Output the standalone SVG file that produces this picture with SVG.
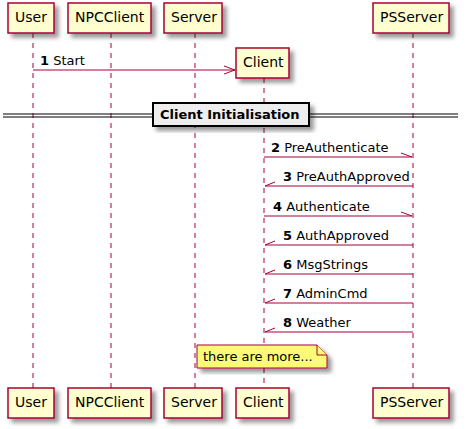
<svg xmlns="http://www.w3.org/2000/svg" width="469" height="429" viewBox="0 0 469 429">
<defs>
<filter id="sh" x="-20%" y="-20%" width="150%" height="150%">
<feGaussianBlur in="SourceAlpha" stdDeviation="2"/>
<feOffset dx="4" dy="4" result="b"/>
<feColorMatrix in="b" type="matrix" values="0 0 0 0 0  0 0 0 0 0  0 0 0 0 0  0 0 0 0.4 0"/>
<feMerge><feMergeNode/><feMergeNode in="SourceGraphic"/></feMerge>
</filter>
</defs>
<style>
.p{fill:#FEFECE;stroke:#A80036;stroke-width:1.5;filter:url(#sh)}
.pt{font-family:"DejaVu Sans",sans-serif;font-size:14px;fill:#000}
.ll{stroke:#A80036;stroke-width:1;stroke-dasharray:5,5;fill:none}
.m{stroke:#A80036;stroke-width:1;fill:none}
.mt{font-family:"DejaVu Sans",sans-serif;font-size:13px;fill:#000}
.b{font-weight:bold}
.dl{stroke:#000;stroke-width:1;fill:none}
</style>
<g id="lifelines">
<line class="ll" x1="33" y1="33" x2="33" y2="388"/>
<line class="ll" x1="111" y1="33" x2="111" y2="388"/>
<line class="ll" x1="195" y1="33" x2="195" y2="388"/>
<line class="ll" x1="264" y1="78" x2="264" y2="388"/>
<line class="ll" x1="413" y1="33" x2="413" y2="388"/>
</g>
<g id="User">
<rect class="p" x="8" y="3" width="46" height="30"/>
<text class="pt" x="15" y="22">User</text>
<rect class="p" x="8" y="388" width="46" height="30"/>
<text class="pt" x="15" y="407">User</text>
</g>
<g id="NPCClient">
<rect class="p" x="68" y="3" width="83" height="30"/>
<text class="pt" x="75" y="22">NPCClient</text>
<rect class="p" x="68" y="388" width="83" height="30"/>
<text class="pt" x="75" y="407">NPCClient</text>
</g>
<g id="Server">
<rect class="p" x="164" y="3" width="58" height="30"/>
<text class="pt" x="171" y="22">Server</text>
<rect class="p" x="164" y="388" width="58" height="30"/>
<text class="pt" x="171" y="407">Server</text>
</g>
<g id="Client">
<rect class="p" x="236" y="48" width="53" height="30"/>
<text class="pt" x="243" y="67">Client</text>
<rect class="p" x="236" y="388" width="53" height="30"/>
<text class="pt" x="243" y="407">Client</text>
</g>
<g id="PSServer">
<rect class="p" x="373" y="3" width="76" height="30"/>
<text class="pt" x="380" y="22">PSServer</text>
<rect class="p" x="373" y="388" width="76" height="30"/>
<text class="pt" x="380" y="407">PSServer</text>
</g>
<g id="divider">
<line class="dl" x1="3" y1="114" x2="458" y2="114"/>
<line class="dl" x1="3" y1="117" x2="458" y2="117"/>
<rect x="153" y="103" width="156" height="23" fill="#EEEEEE" stroke="#000" stroke-width="2" filter="url(#sh)"/>
<text class="mt b" x="160" y="119">Client Initialisation</text>
</g>
<g id="connectors">
<line class="m" x1="33" y1="70" x2="235" y2="70"/>
<polyline class="m" points="224,66 235,70 224,74"/>
<line class="m" x1="264" y1="157" x2="412" y2="157"/>
<line class="m" x1="401" y1="153" x2="412" y2="157"/>
<line class="m" x1="265" y1="186" x2="413" y2="186"/>
<line class="m" x1="265" y1="186" x2="275" y2="182"/>
<line class="m" x1="264" y1="216" x2="412" y2="216"/>
<line class="m" x1="401" y1="212" x2="412" y2="216"/>
<line class="m" x1="265" y1="245" x2="413" y2="245"/>
<line class="m" x1="265" y1="245" x2="275" y2="241"/>
<line class="m" x1="265" y1="274" x2="413" y2="274"/>
<line class="m" x1="265" y1="274" x2="275" y2="270"/>
<line class="m" x1="265" y1="303" x2="413" y2="303"/>
<line class="m" x1="265" y1="303" x2="275" y2="299"/>
<line class="m" x1="265" y1="332" x2="413" y2="332"/>
<line class="m" x1="265" y1="332" x2="275" y2="328"/>
</g>
<g id="labels">
<text class="mt" x="40" y="65"><tspan class="b">1</tspan> Start</text>
<text class="mt" x="271" y="152"><tspan class="b">2</tspan> PreAuthenticate</text>
<text class="mt" x="283" y="181"><tspan class="b">3</tspan> PreAuthApproved</text>
<text class="mt" x="273" y="211"><tspan class="b">4</tspan> Authenticate</text>
<text class="mt" x="283" y="240"><tspan class="b">5</tspan> AuthApproved</text>
<text class="mt" x="283" y="269"><tspan class="b">6</tspan> MsgStrings</text>
<text class="mt" x="283" y="298"><tspan class="b">7</tspan> AdminCmd</text>
<text class="mt" x="283" y="327"><tspan class="b">8</tspan> Weather</text>
</g>
<g id="note">
<path d="M197,345 L317,345 L327,355 L327,368 L197,368 Z" fill="#FBFB77" stroke="#A80036" stroke-width="1" filter="url(#sh)"/>
<path d="M317,345 L317,355 L327,355" fill="#FBFB77" stroke="#A80036" stroke-width="1"/>
<text class="mt" x="203" y="361">there are more...</text>
</g>
</svg>
